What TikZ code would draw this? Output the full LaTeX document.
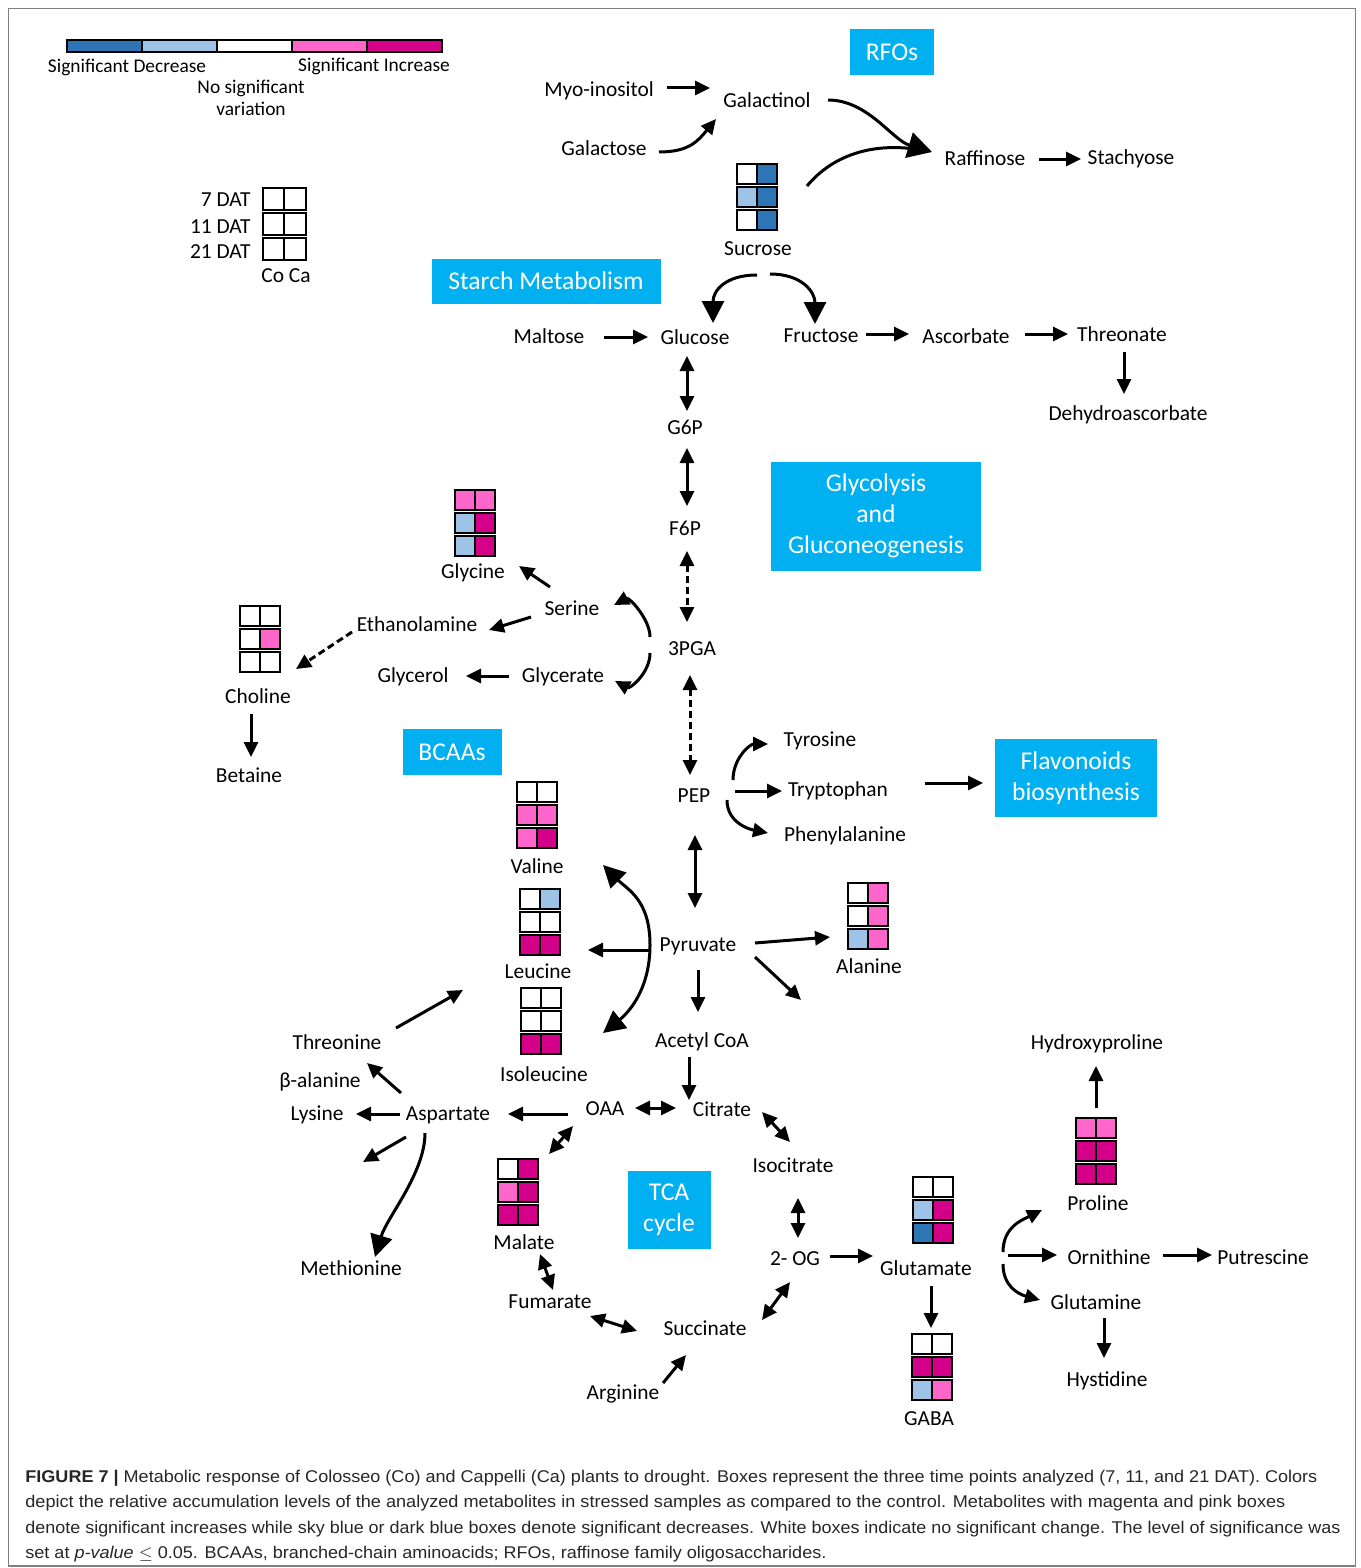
\documentclass[tikz,border=0pt]{standalone}
\usepackage{fontspec}
\setmainfont{Carlito}
\newfontfamily\capfont{Liberation Sans}
\usetikzlibrary{arrows.meta}
\definecolor{dblue}{RGB}{46,117,182}
\definecolor{lblue}{RGB}{157,195,230}
\definecolor{pink}{RGB}{255,102,204}
\definecolor{magenta}{RGB}{212,0,138}
\definecolor{boxcyan}{RGB}{0,176,240}
% 2 x 3 box of colours, #1,#2 = top left corner
\newcommand{\metgrid}[3]{%
  \foreach \ca/\cb [count=\row from 0] in {#3} {
    \draw[cell,fill=\ca] (#1,#2+\row*23) rectangle ++(20,20);
    \draw[cell,fill=\cb] (#1+20,#2+\row*23) rectangle ++(20,20);
  }}
\begin{document}
\begin{tikzpicture}[x=0.5pt,y=-0.5pt,
    met/.style={font=\fontsize{10.7}{12.8}\selectfont,inner sep=1pt},
    leg/.style={font=\fontsize{9.7}{11}\selectfont,inner sep=1pt,align=center},
    pathbox/.style={fill=boxcyan,text=white,font=\fontsize{12.8}{15.5}\selectfont,align=center,inner sep=0pt},
    cell/.style={line width=1pt},
    arr/.style={line width=1.5pt,-{Triangle[length=7.5pt,width=7pt]}},
    darr/.style={line width=1.5pt,{Triangle[length=7.5pt,width=7pt]}-{Triangle[length=7.5pt,width=7pt]}},
    bigarr/.style={line width=1.5pt,-{Triangle[length=11pt,width=11pt]}},
    dashline/.style={dash pattern=on 3.5pt off 2pt}]
    \useasboundingbox (0,0) rectangle (1360,1568);
    %% frame
    \draw[black!50,line width=0.8pt] (8.5,8.5) rectangle (1355.5,1566);
    %% legend
    \foreach \c [count=\i from 0] in {dblue,lblue,white,pink,magenta}
        \draw[cell,fill=\c] (67+\i*75,40) rectangle ++(75,12);
    \node[leg] (ldec) at (127,67) {Significant Decrease};
    \node[leg] (linc) at (374,66) {Significant Increase};
    \node[leg] (lno) at (251,98) {No significant\\variation};
    %% key
    \foreach \row in {0,1,2} {
        \draw[cell] (263,188+\row*25) rectangle ++(21,22);
        \draw[cell] (284,188+\row*25) rectangle ++(22,22);
    }
    \node[met,anchor=east] (k7) at (253,200) {7 DAT};
    \node[met,anchor=east] (k11) at (253,227) {11 DAT};
    \node[met,anchor=east] (k21) at (253,252) {21 DAT};
    \node[met] (coca) at (286,276) {Co Ca};
    %% pathway boxes
    \node[pathbox,minimum width=42pt,minimum height=23pt] (rfos) at (892,52) {RFOs};
    \node[pathbox,minimum width=114.5pt,minimum height=22.5pt] (starch) at (546,281) {Starch Metabolism};
    \node[pathbox,minimum width=105pt,minimum height=54.5pt] (glyco) at (876,516) {Glycolysis\\and\\Gluconeogenesis};
    \node[pathbox,minimum width=49.5pt,minimum height=23pt] (bcaas) at (452,752) {BCAAs};
    \node[pathbox,minimum width=81pt,minimum height=39pt] (flav) at (1076,778) {Flavonoids\\biosynthesis};
    \node[pathbox,minimum width=41.5pt,minimum height=39pt] (tca) at (669,1210) {TCA\\cycle};
    %% metabolites
    \node[met] (myo) at (599,91) {Myo-inositol};
    \node[met] (galactinol) at (767,100) {Galactinol};
    \node[met] (galactose) at (604,148) {Galactose};
    \node[met] (raffinose) at (985,158) {Raffinose};
    \node[met] (stachyose) at (1131,159) {Stachyose};
    \node[met] (sucrose) at (758,249) {Sucrose};
    \node[met] (maltose) at (549,336) {Maltose};
    \node[met] (glucose) at (695,337) {Glucose};
    \node[met] (fructose) at (821,336) {Fructose};
    \node[met] (ascorbate) at (966,336) {Ascorbate};
    \node[met] (threonate) at (1122,334) {Threonate};
    \node[met] (dehydro) at (1128,415) {Dehydroascorbate};
    \node[met] (g6p) at (685,427) {G6P};
    \node[met] (f6p) at (685,528) {F6P};
    \node[met] (pga) at (692,649) {3PGA};
    \node[met] (glycine) at (473,573) {Glycine};
    \node[met] (serine) at (572,608) {Serine};
    \node[met] (ethanol) at (417,624) {Ethanolamine};
    \node[met] (glycerol) at (413,677) {Glycerol};
    \node[met] (glycerate) at (563,677) {Glycerate};
    \node[met] (choline) at (258,696) {Choline};
    \node[met] (betaine) at (249,775) {Betaine};
    \node[met] (pep) at (694,796) {PEP};
    \node[met] (tyrosine) at (820,741) {Tyrosine};
    \node[met] (tryptophan) at (838,791) {Tryptophan};
    \node[met] (phenyl) at (845,836) {Phenylalanine};
    \node[met] (valine) at (537,866) {Valine};
    \node[met] (leucine) at (538,971) {Leucine};
    \node[met] (isoleucine) at (544,1074) {Isoleucine};
    \node[met] (pyruvate) at (698,946) {Pyruvate};
    \node[met] (alanine) at (869,966) {Alanine};
    \node[met] (acetyl) at (702,1042) {Acetyl CoA};
    \node[met] (threonine) at (337,1042) {Threonine};
    \node[met] (balanine) at (320,1082) {β-alanine};
    \node[met] (lysine) at (317,1115) {Lysine};
    \node[met] (aspartate) at (448,1115) {Aspartate};
    \node[met] (oaa) at (605,1109) {OAA};
    \node[met] (citrate) at (722,1109) {Citrate};
    \node[met] (isocitrate) at (793,1165) {Isocitrate};
    \node[met] (malate) at (524,1242) {Malate};
    \node[met] (methionine) at (351,1268) {Methionine};
    \node[met] (og) at (795,1259) {2- OG};
    \node[met] (glutamate) at (926,1268) {Glutamate};
    \node[met] (fumarate) at (550,1302) {Fumarate};
    \node[met] (succinate) at (705,1328) {Succinate};
    \node[met] (arginine) at (623,1394) {Arginine};
    \node[met] (gaba) at (929,1419) {GABA};
    \node[met] (hydroxy) at (1097,1044) {Hydroxyproline};
    \node[met] (proline) at (1098,1203) {Proline};
    \node[met] (ornithine) at (1109,1257) {Ornithine};
    \node[met] (putrescine) at (1263,1257) {Putrescine};
    \node[met] (glutamine) at (1096,1302) {Glutamine};
    \node[met] (hystidine) at (1107,1381) {Hystidine};
    %% colour boxes (7, 11, 21 DAT; Co, Ca)
    \metgrid{737}{164}{white/dblue,lblue/dblue,white/dblue}
    \metgrid{455}{490}{pink/pink,lblue/magenta,lblue/magenta}
    \metgrid{240}{606}{white/white,white/pink,white/white}
    \metgrid{517}{782}{white/white,pink/pink,pink/magenta}
    \metgrid{520}{889}{white/lblue,white/white,magenta/magenta}
    \metgrid{521}{988}{white/white,white/white,magenta/magenta}
    \metgrid{848}{883}{white/pink,white/pink,lblue/pink}
    \metgrid{498}{1159}{white/magenta,pink/magenta,magenta/magenta}
    \metgrid{913}{1177}{white/white,lblue/magenta,dblue/magenta}
    \metgrid{912}{1334}{white/white,magenta/magenta,lblue/pink}
    \metgrid{1076}{1118}{pink/pink,magenta/magenta,magenta/magenta}
    %% free ends
    \coordinate (pyrend) at (801,1000);
    \coordinate (aspend) at (363,1162);
    \coordinate (bcaaend) at (463,990);
    %% RFOs
    \draw[arr] ([shift={(68,-3)}]myo.center) -- ([shift={(-57,-12)}]galactinol.center);
    \draw[arr] ([shift={(55,4)}]galactose.center) .. controls +(30,0) and +(-18,22) .. ([shift={(-51,19)}]galactinol.center);
    \draw[line width=1.5pt,-{Triangle[length=12pt,width=13pt]}] ([shift={(61,0)}]galactinol.center) .. controls +(40,0) and +(-40,-12) .. ([shift={(-53,-6)}]raffinose.center);
    \draw[line width=1.5pt] ([shift={(49,-63)}]sucrose.center) .. controls +(25,-30) and +(-45,-6) .. ([shift={(-70,-9)}]raffinose.center);
    \draw[arr] ([shift={(54,1)}]raffinose.center) -- ([shift={(-50,0)}]stachyose.center);
    %% starch
    \draw[bigarr] ([shift={(-1,26)}]sucrose.center) .. controls +(-32,0) and +(0,-32) .. ([shift={(18,-14)}]glucose.center);
    \draw[bigarr] ([shift={(12,25)}]sucrose.center) .. controls +(32,0) and +(0,-32) .. ([shift={(-6,-12)}]fructose.center);
    \draw[arr] ([shift={(55,1)}]maltose.center) -- ([shift={(-47,0)}]glucose.center);
    \draw[arr] ([shift={(45,-2)}]fructose.center) -- ([shift={(-57,-2)}]ascorbate.center);
    \draw[arr] ([shift={(59,-2)}]ascorbate.center) -- ([shift={(-54,0)}]threonate.center);
    \draw[arr] ([shift={(2,18)}]threonate.center) -- ([shift={(-4,-21)}]dehydro.center);
    %% glycolysis
    \draw[darr] ([shift={(-8,19)}]glucose.center) -- ([shift={(2,-16)}]g6p.center);
    \draw[darr] ([shift={(2,21)}]g6p.center) -- ([shift={(2,-22)}]f6p.center);
    \draw[darr,dashline] ([shift={(2,23)}]f6p.center) -- ([shift={(-5,-27)}]pga.center);
    \draw[darr,dashline] ([shift={(-2,26)}]pga.center) -- ([shift={(-4,-21)}]pep.center);
    %% serine and glycerate
    \draw[arr] ([shift={(-42,-12)}]pga.center) .. controls +(0,-18) and +(15,-8) .. ([shift={(42,-3)}]serine.center);
    \draw[arr] ([shift={(-42,4)}]pga.center) .. controls +(0,20) and +(15,8) .. ([shift={(52,4)}]glycerate.center);
    \draw[arr] ([shift={(-22,-21)}]serine.center) -- ([shift={(46,-7)}]glycine.center);
    \draw[arr] ([shift={(-41,9)}]serine.center) -- ([shift={(72,6)}]ethanol.center);
    \draw[arr,dashline] ([shift={(-65,8)}]ethanol.center) -- ([shift={(38,-27)}]choline.center);
    \draw[arr] ([shift={(-54,-1)}]glycerate.center) -- ([shift={(53,-1)}]glycerol.center);
    \draw[arr] ([shift={(-7,18)}]choline.center) -- ([shift={(2,-18)}]betaine.center);
    %% aromatic
    \draw[arr] ([shift={(39,-16)}]pep.center) .. controls +(0,-22) and +(-18,0) .. ([shift={(-52,3)}]tyrosine.center);
    \draw[arr] ([shift={(41,-5)}]pep.center) -- ([shift={(-56,0)}]tryptophan.center);
    \draw[arr] ([shift={(33,4)}]pep.center) .. controls +(0,22) and +(-20,-4) .. ([shift={(-77,-3)}]phenyl.center);
    \draw[arr] ([shift={(87,-8)}]tryptophan.center) -- ([shift={(-93,5)}]flav.center);
    %% pyruvate
    \draw[darr] ([shift={(1,39)}]pep.center) -- ([shift={(-3,-38)}]pyruvate.center);
    \draw[bigarr] ([shift={(-48,-1)}]pyruvate.center) .. controls +(0,-45) and +(25,25) .. ([shift={(66,-1)}]valine.center);
    \draw[bigarr] ([shift={(-48,-1)}]pyruvate.center) .. controls +(0,45) and +(25,-20) .. ([shift={(59,-41)}]isoleucine.center);
    \draw[arr] ([shift={(-48,4)}]pyruvate.center) -- ([shift={(50,-21)}]leucine.center);
    \draw[arr] ([shift={(57,-3)}]pyruvate.center) -- ([shift={(-39,-29)}]alanine.center);
    \draw[arr] ([shift={(57,11)}]pyruvate.center) -- (pyrend);
    \draw[arr] ([shift={(0,24)}]pyruvate.center) -- ([shift={(-4,-30)}]acetyl.center);
    \draw[arr] ([shift={(-13,15)}]acetyl.center) -- ([shift={(-33,-9)}]citrate.center);
    \draw[arr] ([shift={(59,-14)}]threonine.center) -- (bcaaend);
    %% TCA cycle
    \draw[darr] ([shift={(30,-1)}]oaa.center) -- ([shift={(-46,-1)}]citrate.center);
    \draw[arr] ([shift={(-37,5)}]oaa.center) -- ([shift={(60,-1)}]aspartate.center);
    \draw[darr] ([shift={(40,3)}]citrate.center) -- ([shift={(-3,-23)}]isocitrate.center);
    \draw[darr] ([shift={(5,33)}]isocitrate.center) -- ([shift={(3,-21)}]og.center);
    \draw[arr] ([shift={(35,-3)}]og.center) -- ([shift={(-53,-12)}]glutamate.center);
    \draw[darr] ([shift={(-5,23)}]og.center) -- ([shift={(57,-8)}]succinate.center);
    \draw[darr] ([shift={(-68,3)}]succinate.center) -- ([shift={(40,14)}]fumarate.center);
    \draw[darr] ([shift={(3,-12)}]fumarate.center) -- ([shift={(16,12)}]malate.center);
    \draw[darr] ([shift={(25,-88)}]malate.center) -- ([shift={(-32,17)}]oaa.center);
    \draw[arr] ([shift={(40,-11)}]arginine.center) -- ([shift={(-19,27)}]succinate.center);
    %% aspartate family
    \draw[arr] ([shift={(-48,-1)}]aspartate.center) -- ([shift={(39,-1)}]lysine.center);
    \draw[arr] ([shift={(-47,-22)}]aspartate.center) -- ([shift={(47,-19)}]balanine.center);
    \draw[arr] ([shift={(-42,22)}]aspartate.center) -- (aspend);
    \draw[bigarr] ([shift={(-23,18)}]aspartate.center) .. controls +(0,40) and +(12,-40) .. ([shift={(24,-11)}]methionine.center);
    %% glutamate family
    \draw[arr] ([shift={(5,18)}]glutamate.center) -- ([shift={(2,-91)}]gaba.center);
    \draw[arr] ([shift={(77,-16)}]glutamate.center) .. controls +(0,-25) and +(-20,10) .. ([shift={(-56,7)}]proline.center);
    \draw[arr] ([shift={(82,-13)}]glutamate.center) -- ([shift={(-52,-2)}]ornithine.center);
    \draw[arr] ([shift={(77,-4)}]glutamate.center) .. controls +(0,22) and +(-22,-6) .. ([shift={(-56,-2)}]glutamine.center);
    \draw[arr] ([shift={(54,-2)}]ornithine.center) -- ([shift={(-51,-2)}]putrescine.center);
    \draw[arr] ([shift={(8,16)}]glutamine.center) -- ([shift={(-3,-23)}]hystidine.center);
    \draw[arr] ([shift={(-2,-95)}]proline.center) -- ([shift={(-1,22)}]hydroxy.center);
    %% caption
    \begin{scope}[every node/.style={anchor=base west,inner sep=0pt,text=black!85,font=\capfont\fontsize{8.5}{10}\selectfont}]
        \node (cap1) at (25,1482) {\resizebox{646pt}{\height}{\textbf{FIGURE 7 |} Metabolic response of Colosseo (Co) and Cappelli (Ca) plants to drought. Boxes represent the three time points analyzed (7, 11, and 21 DAT). Colors}};
        \node (cap2) at (25,1507) {\resizebox{630pt}{\height}{depict the relative accumulation levels of the analyzed metabolites in stressed samples as compared to the control. Metabolites with magenta and pink boxes}};
        \node (cap3) at (25,1533) {\resizebox{657.5pt}{\height}{denote significant increases while sky blue or dark blue boxes denote significant decreases. White boxes indicate no significant change. The level of significance was}};
        \node (cap4) at (25,1558) {\resizebox{400.5pt}{\height}{set at \textit{p-value} $\leq$ 0.05. BCAAs, branched-chain aminoacids; RFOs, raffinose family oligosaccharides.}};
    \end{scope}
\end{tikzpicture}
\end{document}
